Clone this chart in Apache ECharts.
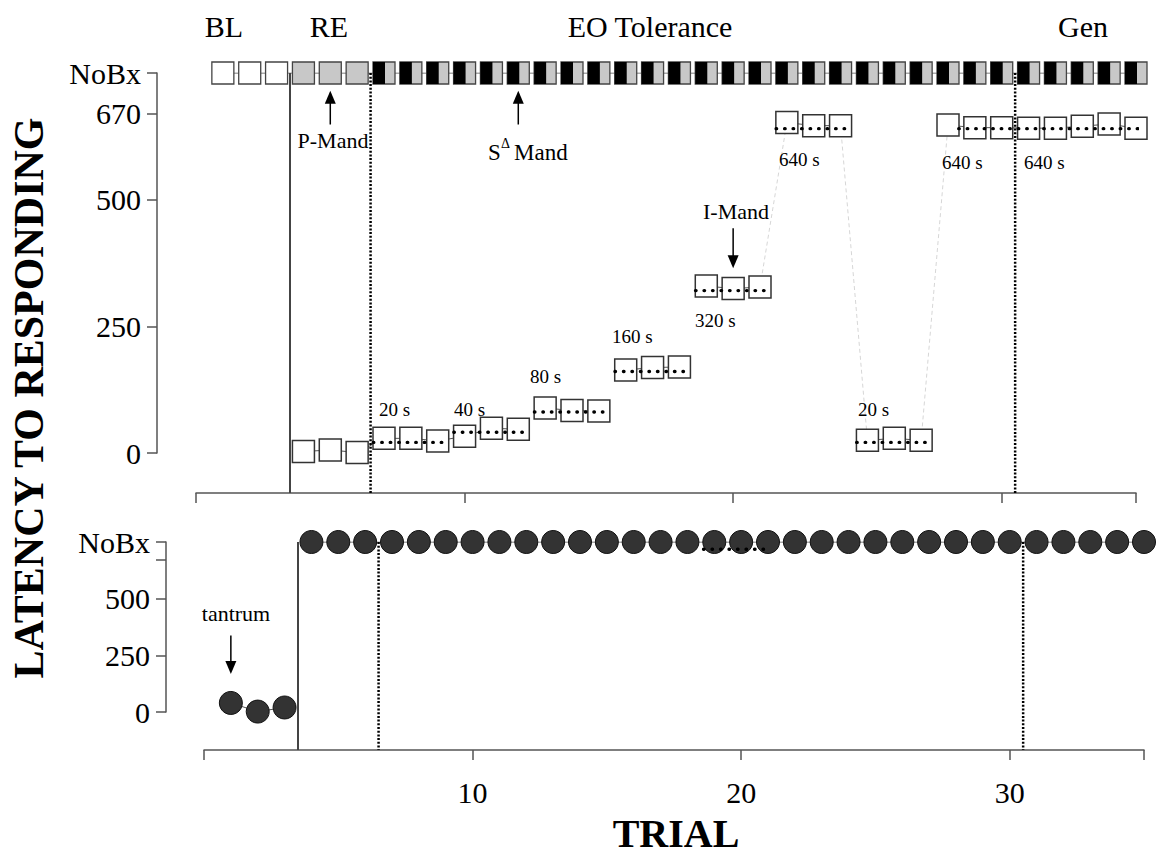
<!DOCTYPE html>
<html>
<head>
<meta charset="utf-8">
<script src="https://cdn.jsdelivr.net/npm/echarts@6.0.0/dist/echarts.min.js"></script>
<style>html,body{margin:0;padding:0;background:#fff}#c{width:1156px;height:854px}</style>
</head>
<body>
<div id="c"></div>
<script>
// ---------------- DATA ----------------
const NOBX = 750; // plotted position of the "NoBx" category
const phaseNames = ['BL', 'RE', 'EO Tolerance', 'Gen'];

// Top panel: "NoBx" row
const rowTrials = [1,2,3,4,5,6,7,8,9,10,11,12,13,14,15,16,17,18,19,20,21,22,23,24,25,26,27,28,29,30,31,32,33,34,35];
const rowFill = ['#ffffff','#ffffff','#ffffff','#c8c8c8','#c8c8c8','#c8c8c8',
  '#c8c8c8','#c8c8c8','#c8c8c8','#c8c8c8','#c8c8c8','#c8c8c8','#c8c8c8','#c8c8c8','#c8c8c8','#c8c8c8',
  '#c8c8c8','#c8c8c8','#c8c8c8','#c8c8c8','#c8c8c8','#c8c8c8','#c8c8c8','#c8c8c8','#c8c8c8','#c8c8c8',
  '#c8c8c8','#c8c8c8','#c8c8c8','#c8c8c8','#c8c8c8','#c8c8c8','#c8c8c8','#c8c8c8','#c8c8c8'];
const rowHalfBlackTrials = [7,8,9,10,11,12,13,14,15,16,17,18,19,20,21,22,23,24,25,26,27,28,29,30,31,32,33,34,35];

// Top panel: latency (s)
const latencyTrials = [4,5,6,7,8,9,10,11,12,13,14,15,16,17,18,19,20,21,22,23,24,25,26,27,28,29,30,31,32,33,34,35];
const latencyValues = [2,5,0, 28,28,23, 32,48,46, 88,83,82, 163,168,169, 329,324,327, 652,646,646, 24,28,24, 647,642,642,641,641,645,649,641];
const noLinkAfter = [12, 15, 18];
const faintLinkAfter = [21, 24, 27];

// Top panel: criterion (dotted) segments
const critStart = [6.6, 9.6, 12.6, 15.6, 18.6, 21.6, 24.6, 28.4];
const critEnd   = [9.4, 12.4, 15.4, 18.4, 21.4, 24.4, 27.4, 35.7];
const critValue = [20, 40, 80, 160, 320, 640, 20, 640];

// Bottom panel
const bottomTrials = [1,2,3,4,5,6,7,8,9,10,11,12,13,14,15,16,17,18,19,20,21,22,23,24,25,26,27,28,29,30,31,32,33,34,35];
const bottomValues = [42,4,22, 750,750,750,750,750,750,750,750,750,750,750,750,750,750,750,750,750,750,750,750,750,750,750,750,750,750,750,750,750,750,750,750];
const bottomCritStart = [18.6];
const bottomCritEnd = [21.1];
const bottomCritValue = [718];

// Phase change lines
const phaseLineTrials = [3.5, 6.5, 30.5];
const phaseLineKind = ['solid', 'dotted', 'dotted'];

// Ticks
const topYTicks = [0, 250, 500, 670, 750];
const bottomYLabels = [0, 250, 500, 750];
const bottomYTicks = [0, 250, 500, 670, 750];
const xTickLabels = [10, 20, 30];

// ---------------- CHART ----------------
const FONT = 'Liberation Serif, Times New Roman, serif';
const TOPMIN = -80, BOTMIN = -165;
const chart = echarts.init(document.getElementById('c'), null, {renderer: 'svg'});

const yFmt = v => (v === NOBX ? 'NoBx' : String(v));
const axisLineStyle = {color: '#555', width: 1.5};
const series = [];

// NoBx row (top)
series.push({
  type: 'line', xAxisIndex: 0, yAxisIndex: 0, z: 3, silent: true,
  data: rowTrials.map((t, i) => ({value: [t, NOBX], itemStyle: {color: rowFill[i]}})),
  symbol: 'rect', symbolSize: 22, showAllSymbol: true,
  itemStyle: {borderColor: '#444', borderWidth: 1.3, opacity: 1},
  lineStyle: {color: '#555', width: 1}
});
series.push({
  type: 'scatter', xAxisIndex: 0, yAxisIndex: 0, z: 4, silent: true,
  data: rowHalfBlackTrials.map(t => [t, NOBX]),
  symbol: 'rect', symbolSize: [12, 22], symbolOffset: [-5, 0],
  itemStyle: {color: '#000', opacity: 1}
});

// Latency lines (dark within groups, faint for large jumps, none where not linked)
const latPts = latencyTrials.map((t, i) => [t, latencyValues[i]]);
const darkLine = {color: '#555', width: 1};
let seg = [];
latPts.forEach(p => {
  seg.push(p);
  if (faintLinkAfter.includes(p[0]) || noLinkAfter.includes(p[0])) {
    series.push({type: 'line', xAxisIndex: 0, yAxisIndex: 0, z: 2, silent: true, data: seg, showSymbol: false, symbol: 'none', lineStyle: darkLine});
    seg = [];
  }
});
if (seg.length) series.push({type: 'line', xAxisIndex: 0, yAxisIndex: 0, z: 2, silent: true, data: seg, showSymbol: false, symbol: 'none', lineStyle: darkLine});
faintLinkAfter.forEach(t => {
  const i = latencyTrials.indexOf(t);
  series.push({type: 'line', xAxisIndex: 0, yAxisIndex: 0, z: 1, silent: true,
    data: [latPts[i], latPts[i + 1]], symbol: 'none',
    lineStyle: {color: '#d6d6d6', width: 1, type: [4, 3]}});
});
// Latency boxes
series.push({
  type: 'scatter', xAxisIndex: 0, yAxisIndex: 0, z: 3, silent: true,
  data: latPts, symbol: 'rect', symbolSize: 22,
  itemStyle: {color: '#fff', borderColor: '#333', borderWidth: 1.5, opacity: 1}
});
// Criterion dotted segments
critStart.forEach((s, i) => {
  series.push({type: 'line', xAxisIndex: 0, yAxisIndex: 0, z: 5, silent: true, clip: false,
    data: [[s, critValue[i]], [critEnd[i], critValue[i]]], symbol: 'none',
    lineStyle: {color: '#000', width: 3.4, type: [0.5, 8], cap: 'round'}});
});
// Phase lines top
phaseLineTrials.forEach((t, i) => {
  const solid = phaseLineKind[i] === 'solid';
  series.push({type: 'line', xAxisIndex: 0, yAxisIndex: 0, z: 6, silent: true,
    data: [[t, NOBX], [t, TOPMIN]], symbol: 'none',
    lineStyle: solid ? {color: '#444', width: 2} : {color: '#000', width: 2.5, type: [2, 1.7]}});
});

// Bottom circles
const botPts = bottomTrials.map((t, i) => [t, bottomValues[i]]);
const circleStyle = {color: '#333', borderColor: '#111', borderWidth: 1, opacity: 1};
[botPts.slice(0, 3), botPts.slice(3)].forEach(d => {
  series.push({type: 'line', xAxisIndex: 2, yAxisIndex: 2, z: 3, silent: true, data: d,
    symbol: 'circle', symbolSize: 23, showAllSymbol: true, itemStyle: circleStyle,
    lineStyle: {color: '#555', width: 1}});
});
bottomCritStart.forEach((s, i) => {
  series.push({type: 'line', xAxisIndex: 2, yAxisIndex: 2, z: 5, silent: true,
    data: [[s, bottomCritValue[i]], [bottomCritEnd[i], bottomCritValue[i]]], symbol: 'none',
    lineStyle: {color: '#000', width: 3.4, type: [0.5, 8], cap: 'round'}});
});
phaseLineTrials.forEach((t, i) => {
  const solid = phaseLineKind[i] === 'solid';
  series.push({type: 'line', xAxisIndex: 2, yAxisIndex: 2, z: 6, silent: true,
    data: [[t, NOBX], [t, BOTMIN]], symbol: 'none',
    lineStyle: solid ? {color: '#444', width: 2} : {color: '#000', width: 2.5, type: [2, 1.7]}});
});

// Arrows (annotation)
function arrow(ax, x, y0, y1, down) {
  series.push({type: 'line', xAxisIndex: ax, yAxisIndex: ax, z: 7, silent: true,
    data: [{value: [x, y0], symbol: 'none'},
           {value: [x, y1], symbol: 'triangle', symbolSize: [11, 13], symbolRotate: down ? 180 : 0}],
    showAllSymbol: true, itemStyle: {color: '#000', opacity: 1},
    lineStyle: {color: '#000', width: 1.5}});
}
arrow(0, 5, 648, 702, false);   // P-Mand
arrow(0, 12, 648, 702, false);  // S-delta Mand
arrow(0, 20, 443, 377, true);   // I-Mand
arrow(2, 1, 339, 198, true);    // tantrum

function txt(text, x, y, size, opts) {
  opts = opts || {};
  return {type: 'text', x: x, y: y, rotation: opts.rotation || 0, silent: true, z: 10,
    style: {text: text, fill: '#000', fontSize: size, fontFamily: FONT,
      fontWeight: opts.bold ? 'bold' : 'normal',
      align: opts.align || 'center', verticalAlign: 'middle',
      textAlign: opts.align || 'center', textVerticalAlign: 'middle'}};
}

const graphic = [
  txt(phaseNames[0], 224, 26, 30),
  txt(phaseNames[1], 329, 26, 30),
  txt(phaseNames[2], 650, 26, 30),
  txt(phaseNames[3], 1083, 26, 30),
  txt('P-Mand', 333, 140, 22),
  txt('S', 488, 152, 23, {align: 'left'}),
  txt('Δ', 501, 143, 14, {align: 'left'}),
  txt('Mand', 514, 152, 23, {align: 'left'}),
  txt('I-Mand', 736, 211, 22),
  txt('tantrum', 236, 613, 22),
  txt('20 s', 379, 409, 19, {align: 'left'}),
  txt('40 s', 454, 409, 19, {align: 'left'}),
  txt('80 s', 530, 376, 19, {align: 'left'}),
  txt('160 s', 612, 336, 19, {align: 'left'}),
  txt('320 s', 695, 320, 19, {align: 'left'}),
  txt('640 s', 779, 159, 19, {align: 'left'}),
  txt('20 s', 858, 409, 19, {align: 'left'}),
  txt('640 s', 942, 162, 19, {align: 'left'}),
  txt('640 s', 1024, 162, 19, {align: 'left'}),
  txt('LATENCY TO RESPONDING', 29, 398, 42, {bold: true, rotation: Math.PI / 2}),
  txt('TRIAL', 676, 833, 40, {bold: true})
];

const labelFont = {fontSize: 30, fontFamily: FONT, color: '#000'};

const option = {
  animation: false,
  backgroundColor: '#fff',
  textStyle: {fontFamily: FONT},
  grid: [
    {left: 196, top: 73, width: 940, height: 420, outerBoundsMode: 'none', containLabel: false},
    {left: 157, top: 73, width: 20, height: 380, outerBoundsMode: 'none', containLabel: false},
    {left: 204, top: 542, width: 940, height: 208, outerBoundsMode: 'none', containLabel: false},
    {left: 166, top: 542, width: 20, height: 170, outerBoundsMode: 'none', containLabel: false}
  ],
  xAxis: [
    {gridIndex: 0, type: 'value', min: 0, max: 35, interval: 10,
      axisLine: {onZero: false, lineStyle: axisLineStyle},
      axisTick: {length: 10, lineStyle: axisLineStyle},
      axisLabel: {show: false}, splitLine: {show: false}},
    {gridIndex: 1, type: 'value', min: 0, max: 1, show: false},
    {gridIndex: 2, type: 'value', min: 0, max: 35, interval: 10,
      axisLine: {onZero: false, lineStyle: axisLineStyle},
      axisTick: {length: 10, lineStyle: axisLineStyle},
      axisLabel: Object.assign({customValues: xTickLabels, margin: 27}, labelFont),
      splitLine: {show: false}},
    {gridIndex: 3, type: 'value', min: 0, max: 1, show: false}
  ],
  yAxis: [
    {gridIndex: 0, type: 'value', min: TOPMIN, max: NOBX, show: false},
    {gridIndex: 1, type: 'value', min: 0, max: NOBX, position: 'left',
      axisLine: {show: true, onZero: false, lineStyle: axisLineStyle},
      axisTick: {show: true, length: 10, customValues: topYTicks, lineStyle: axisLineStyle},
      axisLabel: Object.assign({customValues: topYTicks, formatter: yFmt, margin: 16}, labelFont),
      splitLine: {show: false}},
    {gridIndex: 2, type: 'value', min: BOTMIN, max: NOBX, show: false},
    {gridIndex: 3, type: 'value', min: 0, max: NOBX, position: 'left',
      axisLine: {show: true, onZero: false, lineStyle: axisLineStyle},
      axisTick: {show: true, length: 10, customValues: bottomYTicks, lineStyle: axisLineStyle},
      axisLabel: Object.assign({customValues: bottomYLabels, formatter: yFmt, margin: 16}, labelFont),
      splitLine: {show: false}}
  ],
  series: series,
  graphic: graphic
};
chart.setOption(option);
</script>
</body>
</html>
